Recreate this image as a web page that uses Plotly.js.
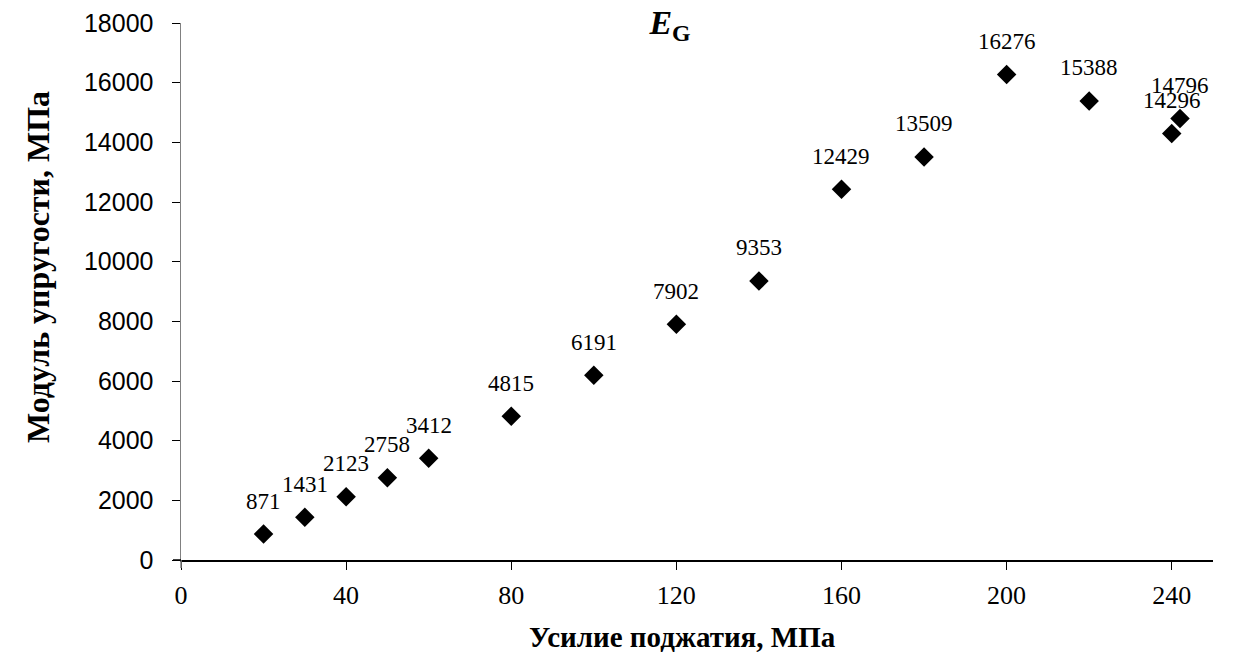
<!DOCTYPE html>
<html>
<head>
<meta charset="utf-8">
<script src="https://cdn.plot.ly/plotly-3.0.1.min.js"></script>
<style>html,body{margin:0;padding:0;background:#fff;}#chart{width:1235px;height:668px;}</style>
</head>
<body>
<div id="chart"></div>
<script>
const pressure = [20, 30, 40, 50, 60, 80, 100, 120, 140, 160, 180, 200, 220, 240, 242];
const modulus = [871, 1431, 2123, 2758, 3412, 4815, 6191, 7902, 9353, 12429, 13509, 16276, 15388, 14296, 14796];
const labels = modulus.map(String);
const xTicks = [0, 40, 80, 120, 160, 200, 240];
const xTitle = 'Усилие поджатия, МПа';
const yTitle = 'Модуль упругости, МПа';

const serif = '"Liberation Serif", "Times New Roman", serif';
const sans = '"Liberation Sans", Arial, sans-serif';

const trace = {
  x: pressure,
  y: modulus,
  mode: 'markers',
  type: 'scatter',
  marker: {symbol: 'diamond', size: 15, color: '#000'},
  cliponaxis: false,
  hoverinfo: 'x+y'
};

const W = 1235, H = 668;
const L = 181, R = 22, T = 23, B = 108;
const pw = W - L - R, ph = H - T - B;
const tk = 8;

const labelAnnotations = pressure.map((x, i) => ({
  x: x, y: modulus[i], xref: 'x', yref: 'y',
  text: labels[i], showarrow: false,
  xanchor: 'center', yanchor: 'middle', yshift: 33,
  font: {family: serif, size: 23, color: '#000'}
}));

const titleAnnotations = [
  {
    xref: 'paper', yref: 'paper',
    x: (682 - L) / pw, y: 0, yshift: -77,
    xanchor: 'center', yanchor: 'middle',
    text: '<b>' + xTitle + '</b>', showarrow: false,
    font: {family: serif, size: 29, color: '#000'}
  },
  {
    xref: 'paper', yref: 'paper',
    x: 0, xshift: 38 - L, y: (H - B - 267) / ph,
    xanchor: 'center', yanchor: 'middle', textangle: -90,
    text: '<b>' + yTitle + '</b>', showarrow: false,
    font: {family: serif, size: 32, color: '#000'}
  }
];

const layout = {
  width: W, height: H,
  margin: {l: L, r: R, t: T, b: B, pad: 0},
  paper_bgcolor: '#fff',
  plot_bgcolor: '#fff',
  showlegend: false,
  title: {
    text: '<b><i>E</i><sub>G</sub></b>',
    font: {family: serif, size: 34, color: '#000'},
    x: 670 / W, xanchor: 'center', xref: 'container',
    y: 1 - 22 / H, yanchor: 'middle', yref: 'container'
  },
  xaxis: {
    range: [0, 250],
    tickmode: 'array',
    tickvals: xTicks,
    ticktext: xTicks.map(String),
    ticks: 'outside', ticklen: tk, tickwidth: 1, tickcolor: '#000',
    showline: true, linecolor: '#000', linewidth: 1.5,
    showgrid: false, zeroline: false,
    ticklabelstandoff: 3,
    tickfont: {family: serif, size: 26, color: '#000'},
    fixedrange: true
  },
  yaxis: {
    range: [0, 18000],
    dtick: 2000,
    tickformat: 'd',
    ticks: 'outside', ticklen: tk, tickwidth: 1, tickcolor: '#000',
    showline: true, linecolor: '#808080', linewidth: 1.5,
    showgrid: false, zeroline: false,
    ticklabelstandoff: 13,
    tickfont: {family: sans, size: 25, color: '#000'},
    fixedrange: true
  },
  annotations: labelAnnotations.concat(titleAnnotations),
  shapes: [
    {type: 'line', xref: 'paper', yref: 'paper', x0: 0, x1: 0, y0: 0, y1: -tk / ph, line: {color: '#808080', width: 1.5}},
    {type: 'line', xref: 'paper', yref: 'paper', x0: -tk / pw, x1: 0, y0: 0, y1: 0, line: {color: '#000', width: 1.5}}
  ]
};

Plotly.newPlot('chart', [trace], layout, {displayModeBar: false, staticPlot: true});
</script>
</body>
</html>
